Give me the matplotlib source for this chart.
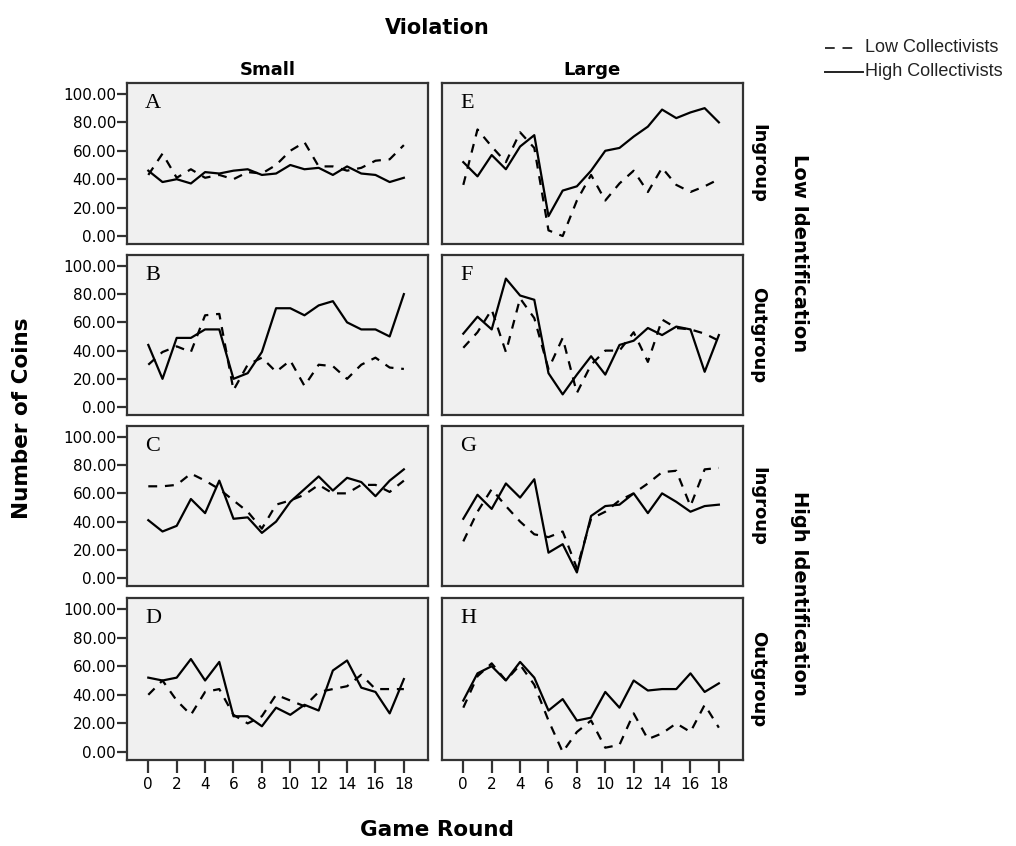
import matplotlib
matplotlib.use("Agg")
import matplotlib.pyplot as plt
from matplotlib.lines import Line2D

# game rounds 0..18
rounds = list(range(19))

# low collectivists (dashed) / high collectivists (solid), per panel
a_low = [43, 58, 41, 47, 41, 43, 40, 45, 44, 50, 60, 66, 49, 49, 46, 48, 53, 54, 64]
a_high = [46, 38, 40, 37, 45, 44, 46, 47, 43, 44, 50, 47, 48, 43, 49, 44, 43, 38, 41]
b_low = [30, 39, 43, 39, 65, 66, 12, 30, 35, 25, 33, 15, 30, 29, 20, 30, 35, 28, 27]
b_high = [44, 20, 49, 49, 55, 55, 20, 24, 39, 70, 70, 65, 72, 75, 60, 55, 55, 50, 80]
c_low = [65, 65, 66, 74, 69, 63, 55, 47, 35, 52, 55, 59, 66, 60, 60, 66, 66, 61, 69]
c_high = [41, 33, 37, 56, 46, 69, 42, 43, 32, 40, 54, 63, 72, 62, 71, 68, 58, 69, 77]
d_low = [40, 50, 36, 26, 42, 44, 26, 20, 25, 40, 36, 32, 42, 44, 46, 54, 44, 44, 44]
d_high = [52, 50, 52, 65, 50, 63, 25, 25, 18, 31, 26, 33, 29, 57, 64, 45, 42, 27, 51]
e_low = [36, 75, 63, 52, 73, 62, 4, 0, 25, 43, 25, 37, 46, 31, 48, 36, 31, 35, 40]
e_high = [52, 42, 57, 47, 63, 71, 14, 32, 35, 46, 60, 62, 70, 77, 89, 83, 87, 90, 80]
f_low = [42, 53, 69, 39, 77, 63, 27, 49, 10, 30, 40, 40, 53, 32, 62, 56, 55, 52, 47]
f_high = [52, 64, 55, 91, 79, 76, 24, 9, 23, 36, 23, 44, 47, 56, 51, 57, 55, 25, 51]
g_low = [26, 47, 63, 51, 40, 31, 29, 33, 7, 42, 47, 55, 60, 67, 75, 76, 51, 77, 78]
g_high = [42, 59, 49, 67, 57, 70, 18, 24, 4, 44, 51, 52, 60, 46, 60, 54, 47, 51, 52]
h_low = [31, 53, 62, 50, 61, 47, 22, 0, 14, 22, 3, 5, 27, 9, 13, 20, 14, 33, 17]
h_high = [36, 55, 60, 50, 63, 52, 29, 37, 22, 24, 42, 31, 50, 43, 44, 44, 55, 42, 48]

letters = ["A", "B", "C", "D", "E", "F", "G", "H"]
low_series = [a_low, b_low, c_low, d_low, e_low, f_low, g_low, h_low]
high_series = [a_high, b_high, c_high, d_high, e_high, f_high, g_high, h_high]
row_labels = ["Ingroup", "Outgroup", "Ingroup", "Outgroup"]
y_ticks = [0, 20, 40, 60, 80, 100]
x_ticks = [0, 2, 4, 6, 8, 10, 12, 14, 16, 18]

fig = plt.figure(figsize=(10.16, 8.46), dpi=100)

col_left = [127 / 1016, 442 / 1016]
col_w = 301 / 1016
# rows as (top px, bottom px)
rows_px = [(83, 244), (255, 415), (426, 586), (598, 760)]

frame_col = "#333333"
axes = []
for col in range(2):
    for row in range(4):
        top, bot = rows_px[row]
        ax = fig.add_axes([col_left[col], 1 - bot / 846, col_w, (bot - top) / 846])
        i = col * 4 + row
        ax.set_facecolor("#f0f0f0")
        ax.plot(rounds, low_series[i], color="black", lw=1.6, dashes=(4, 3.5))
        ax.plot(rounds, high_series[i], color="black", lw=1.6)
        ax.set_xlim(-1.5, 19.7)
        ax.set_ylim(-5.6, 107.7)
        for s in ax.spines.values():
            s.set_color(frame_col)
            s.set_linewidth(1.6)
        ax.text(0.06, 0.93, letters[i], transform=ax.transAxes, ha="left", va="top",
                fontsize=16, family="Liberation Serif")
        if col == 0:
            ax.set_yticks(y_ticks)
            ax.set_yticklabels(["%.2f" % v for v in y_ticks])
            ax.tick_params(axis="y", length=7, width=1.6, color=frame_col,
                           labelsize=11, pad=1)
        else:
            ax.set_yticks([])
            ax.text(1.05, 0.5, row_labels[row], transform=ax.transAxes, rotation=-90,
                    ha="center", va="center", fontsize=13, fontweight="bold")
        if row == 3:
            ax.set_xticks(x_ticks)
            ax.tick_params(axis="x", length=9, width=1.6, color=frame_col,
                           labelsize=11, pad=3)
        else:
            ax.set_xticks([])
        axes.append(ax)

fig.text(437 / 1016, 1 - 28 / 846, "Violation", ha="center", va="center",
         fontsize=15, fontweight="bold")
fig.text(268 / 1016, 1 - 70 / 846, "Small", ha="center", va="center",
         fontsize=13, fontweight="bold")
fig.text(592 / 1016, 1 - 70 / 846, "Large", ha="center", va="center",
         fontsize=13, fontweight="bold")
fig.text(800 / 1016, 1 - 253 / 846, "Low Identification", rotation=-90,
         ha="center", va="center", fontsize=14, fontweight="bold")
fig.text(800 / 1016, 1 - 593 / 846, "High Identification", rotation=-90,
         ha="center", va="center", fontsize=14, fontweight="bold")
fig.text(22 / 1016, 1 - 418 / 846, "Number of Coins", rotation=90,
         ha="center", va="center", fontsize=15.5, fontweight="bold")
fig.text(437 / 1016, 1 - 830 / 846, "Game Round", ha="center", va="center",
         fontsize=15.5, fontweight="bold")

# legend drawn as lines + text in figure coords
fig.add_artist(Line2D([825 / 1016, 853 / 1016], [1 - 48 / 846, 1 - 48 / 846],
                      color="#333333", lw=1.4, dashes=(5, 4)))
fig.add_artist(Line2D([825 / 1016, 863 / 1016], [1 - 72 / 846, 1 - 72 / 846],
                      color="#222222", lw=1.4))
fig.text(865 / 1016, 1 - 48 / 846, "Low Collectivists", ha="left", va="center",
         fontsize=13, family="Liberation Sans", color="#222222")
fig.text(865 / 1016, 1 - 72 / 846, "High Collectivists", ha="left", va="center",
         fontsize=13, family="Liberation Sans", color="#222222")

fig.savefig("out.png", dpi=100)
